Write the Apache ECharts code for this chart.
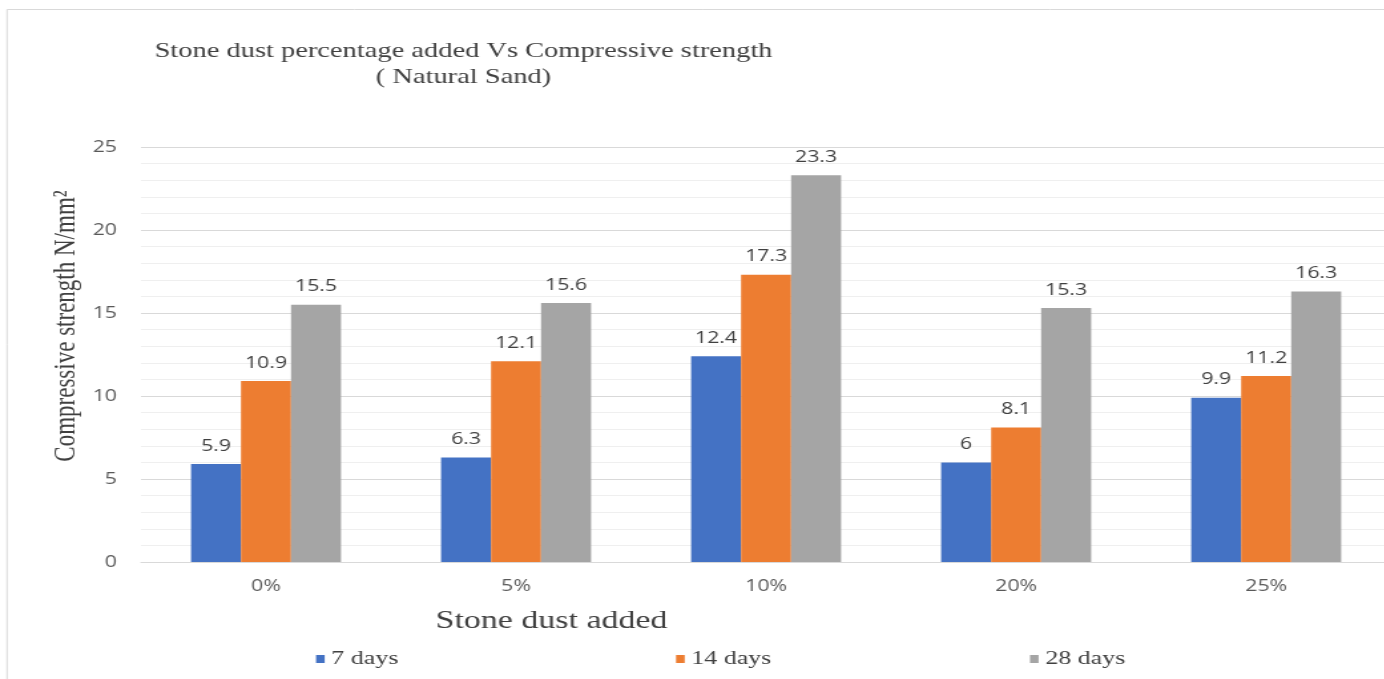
<!DOCTYPE html>
<html>
<head>
<meta charset="utf-8">
<script src="https://cdn.jsdelivr.net/npm/echarts@6/dist/echarts.min.js"></script>
<style>
  html, body { margin: 0; padding: 0; background: #fff; overflow: hidden; width: 1384px; height: 679px; }
  /* the chart is laid out on a narrower canvas and widened horizontally */
  #chart { width: 1050px; height: 679px; transform: scaleX(1.33); transform-origin: 0 0; }
</style>
</head>
<body>
<div id="chart"></div>
<script>
// Compressive strength (N/mm²) by stone dust replacement, natural sand mix
const categories = ['0%', '5%', '10%', '20%', '25%'];
const seriesNames = ['7 days', '14 days', '28 days'];
const days7 = [5.9, 6.3, 12.4, 6, 9.9];
const days14 = [10.9, 12.1, 17.3, 8.1, 11.2];
const days28 = [15.5, 15.6, 23.3, 15.3, 16.3];
const yTicks = [0, 5, 10, 15, 20, 25];

const colors = ['#4472C4', '#ED7D31', '#A5A5A5'];
const serif = '"Liberation Serif", "Times New Roman", serif';
const sans = '"Open Sans", "Noto Sans", sans-serif';

const chart = echarts.init(document.getElementById('chart'), null, { renderer: 'canvas' });

function barSeries(name, data, color) {
  return {
    name: name,
    type: 'bar',
    data: data,
    barGap: '0%',
    barCategoryGap: '40%',
    itemStyle: { color: color },
    label: {
      show: true,
      position: 'top',
      distance: 10,
      color: '#404040',
      fontFamily: sans,
      fontSize: 16
    },
    emphasis: { disabled: true }
  };
}

// one legend per series so each entry sits at its own spot along the bottom
const legendLefts = [232.6, 503.3, 769.4];

chart.setOption({
  animation: false,
  color: colors,
  title: {
    text: 'Stone dust percentage added Vs Compressive strength\n( Natural Sand)',
    left: 343.5,
    top: 33,
    textAlign: 'center',
    textStyle: {
      fontFamily: serif,
      fontSize: 21.4,
      fontWeight: 'normal',
      color: '#404040',
      lineHeight: 26
    }
  },
  legend: seriesNames.map((n, i) => ({
    data: [n],
    left: legendLefts[i],
    top: 644,
    itemWidth: 6.5,
    itemHeight: 8,
    itemGap: 5,
    selectedMode: false,
    icon: 'rect',
    textStyle: { fontFamily: serif, fontSize: 19.5, color: '#404040' }
  })),
  grid: { left: 106, right: 4, top: 147, bottom: 117, containLabel: false },
  xAxis: {
    type: 'category',
    data: categories,
    axisTick: { show: false },
    axisLine: { show: true, lineStyle: { color: '#d9d9d9', width: 1 } },
    axisLabel: { color: '#595959', fontFamily: sans, fontSize: 16, margin: 16 }
  },
  yAxis: {
    type: 'value',
    min: yTicks[0],
    max: yTicks[yTicks.length - 1],
    interval: 5,
    axisLine: { show: false },
    axisTick: { show: false },
    axisLabel: { color: '#595959', fontFamily: sans, fontSize: 16, margin: 18 },
    splitLine: { show: true, lineStyle: { color: '#d9d9d9', width: 1 } },
    minorTick: { show: false, splitNumber: 5 },
    minorSplitLine: { show: true, lineStyle: { color: '#efefef', width: 1 } }
  },
  graphic: [
    {
      type: 'rect',
      silent: true,
      shape: { x: 5.3, y: 9.5, width: 2000, height: 1000 },
      style: { fill: 'none', stroke: '#d9d9d9', lineWidth: 1 }
    },
    {
      type: 'text',
      silent: true,
      x: 50.4,
      y: 326,
      rotation: Math.PI / 2,
      style: {
        text: 'Compressive strength N/mm²',
        fontFamily: serif,
        fontSize: 23,
        fill: '#404040',
        align: 'center',
        verticalAlign: 'middle'
      }
    },
    {
      type: 'text',
      silent: true,
      x: 414.7,
      y: 621,
      style: {
        text: 'Stone dust added',
        fontFamily: serif,
        fontSize: 25.5,
        fill: '#404040',
        align: 'center',
        verticalAlign: 'middle'
      }
    }
  ],
  series: [
    barSeries(seriesNames[0], days7, colors[0]),
    barSeries(seriesNames[1], days14, colors[1]),
    barSeries(seriesNames[2], days28, colors[2])
  ]
});
</script>
</body>
</html>
